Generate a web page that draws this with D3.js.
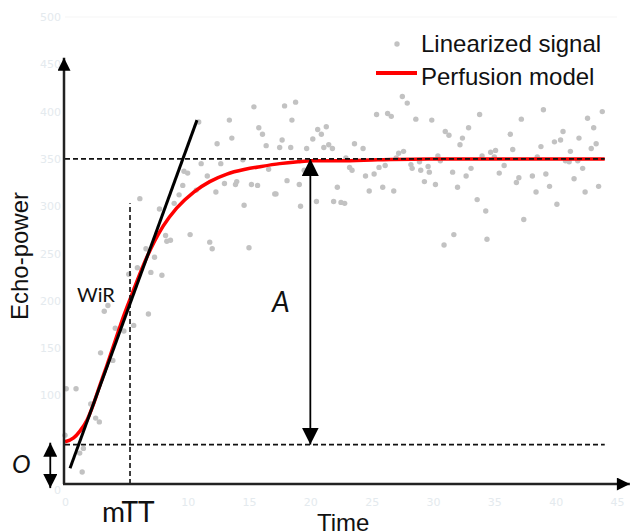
<!DOCTYPE html>
<html>
<head>
  <script src="https://d3js.org/d3.v7.min.js"></script>
  <style>
    body { margin: 0; background: #fff; }
    .tick text { fill: #e4eaee; font-family: "DejaVu Sans", sans-serif; font-size: 11px; }
    .tick line, .domain { display: none; }
    .dot { fill: #c2c2c2; }
    .model { fill: none; stroke: #ff0000; stroke-width: 3.5; }
    .guide { stroke: #111; stroke-width: 1.6; stroke-dasharray: 5,3; fill: none; }
    .axisline { stroke: #222; stroke-width: 2.5; }
    .lbl { font-family: Lato, sans-serif; fill: #111; }
    .legend { font-family: "Liberation Sans", Arial, sans-serif; font-size: 24px; fill: #111; }
  </style>
</head>
<body>
  <svg width="635" height="532"></svg>
  <script>
    // tick labels
    var xTicks = [0, 5, 10, 15, 20, 25, 30, 35, 40, 45];
    var yTicks = [0, 50, 100, 150, 200, 250, 300, 350, 400, 450, 500];

    // linearized signal (time, echo-power)
    var signalT = [0.0,0.1,0.9,1.2,1.5,1.4,2.1,2.5,2.8,2.9,3.9,3.2,3.5,4.1,4.8,5.6,6.8,
      6.1,5.2,5.9,7.0,7.9,7.3,6.6,8.2,8.6,8.3,7.7,8.9,9.3,9.6,9.7,10.0,10.7,10.2,11.8,12.0,10.9,11.1,11.6,12.3,12.4,12.7,13.0,13.4,13.6,13.9,14.0,14.6,14.5,
      15.4,17.9,18.8,18.5,15.8,16.1,17.7,17.5,18.4,16.4,19.7,20.2,20.6,20.9,21.3,21.1,21.5,21.8,23.6,24.3,22.9,23.2,23.4,19.5,16.6,18.1,19.1,15.2,15.7,17.1,17.2,19.2,20.5,22.2,21.9,22.5,22.8,15.0,24.5,25.2,24.8,25.9,26.8,25.6,26.1,27.0,27.2,27.6,25.4,26.3,26.6,27.5,27.9,28.6,28.2,28.3,29.0,29.3,28.9,
      29.9,31.0,31.3,33.8,32.9,32.4,32.2,30.4,30.6,29.6,29.7,30.2,31.6,32.0,32.7,33.1,33.6,34.3,30.9,31.7,34.4,34.0,34.7,35.1,35.0,35.4,35.8,36.3,36.5,37.2,39.0,36.8,37.0,37.4,38.1,38.5,38.8,38.4,39.2,39.5,40.1,39.9,40.4,40.6,40.8,41.1,41.2,41.8,41.5,42.2,41.9,42.4,42.6,43.1,42.9,43.3,43.5,43.8];
    var signalV = [58,107,107,39,44,19,91,76,72,145,137,189,195,171,168,174,186,
      308,228,235,230,227,246,255,269,264,263,297,303,312,322,337,335,317,270,262,255,389,345,332,315,366,345,324,391,372,323,326,301,349,
      405,406,410,391,383,376,370,362,362,364,361,371,381,376,384,362,365,361,366,361,351,341,338,338,339,327,323,323,322,313,313,300,305,320,305,304,303,256,332,334,316,320,316,341,343,351,356,358,397,398,395,416,409,392,344,340,338,326,347,
      391,379,375,397,383,372,365,353,348,342,336,323,336,320,332,340,307,295,259,270,265,353,357,359,352,335,343,376,360,392,402,325,330,286,332,352,363,315,334,321,302,368,370,379,348,347,358,348,329,340,372,315,393,383,361,366,321,400];

    // perfusion model fit
    var modelT = [0, 0.7, 1.2, 1.8, 2.3, 2.85, 3.4, 4.1, 4.7, 5.4, 6.4, 7.3, 8.0, 9.1, 10.5, 11.8, 13.2, 14.7, 16.0, 17.5, 19.0, 20.1, 22.4, 25.5, 29.7, 44];
    var modelV = [51, 55, 62, 74, 90, 111, 131, 158, 181, 205, 238, 263, 279, 298, 315, 326, 334, 339, 342, 345, 347, 348, 348, 349, 350, 350];

    // annotations
    var offsetO = 48, plateau = 350, tEnd = 44;
    var wirT = [0.41, 10.76], wirV = [23, 391];
    var mtt = 5.3, mttTop = 303;
    var tA = 20, tO = -1.2;
    var axisV = 6.3, axisTop = 457, axisRight = 46.05;

    var svg = d3.select("svg");
    var x = d3.scaleLinear().domain([0, 45]).range([65, 617]),
        y = d3.scaleLinear().domain([0, 500]).range([490, 17]);

    var defs = svg.append("defs");
    function marker(id, len, wid) {
      defs.append("marker").attr("id", id)
        .attr("viewBox", "0 0 10 10").attr("refX", 10).attr("refY", 5)
        .attr("markerUnits", "userSpaceOnUse")
        .attr("markerWidth", len).attr("markerHeight", wid)
        .attr("orient", "auto-start-reverse")
        .append("path").attr("d", "M0,0L10,5L0,10z").attr("fill", "#000");
    }
    marker("bigArrow", 17, 17);
    marker("axArrow", 14, 13);
    marker("smArrow", 14, 14);

    // faint axes of the original plot
    svg.append("line").attr("x1", x(0)).attr("x2", x(45)).attr("y1", y(500)).attr("y2", y(500))
      .attr("stroke", "#f5f5f5");
    svg.append("g").attr("class", "axis")
      .attr("transform", "translate(0," + y(0) + ")")
      .call(d3.axisBottom(x).tickValues(xTicks).tickSize(0).tickPadding(8));
    svg.append("g").attr("class", "axis")
      .attr("transform", "translate(" + (x(0) - 1) + ",0)")
      .call(d3.axisLeft(y).tickValues(yTicks).tickSize(0).tickPadding(3));

    // signal
    svg.selectAll(".dot")
      .data(signalT.map(function(t, i) { return [t, signalV[i]]; }))
      .enter().append("circle")
      .attr("class", "dot")
      .attr("cx", function(d) { return x(d[0]); })
      .attr("cy", function(d) { return y(d[1]); })
      .attr("r", 2.7);

    // model
    var line = d3.line()
      .x(function(d) { return x(d[0]); })
      .y(function(d) { return y(d[1]); })
      .curve(d3.curveMonotoneX);
    svg.append("path").attr("class", "model")
      .attr("d", line(modelT.map(function(t, i) { return [t, modelV[i]]; })));

    // dashed guides
    [offsetO, plateau].forEach(function(v) {
      svg.append("line").attr("class", "guide")
        .attr("x1", x(0)).attr("x2", x(tEnd)).attr("y1", y(v)).attr("y2", y(v));
    });
    svg.append("line").attr("class", "guide").attr("stroke-dasharray", "4,3")
      .attr("x1", x(mtt)).attr("x2", x(mtt)).attr("y1", y(axisV)).attr("y2", y(mttTop));

    // wash-in rate tangent
    svg.append("line")
      .attr("x1", x(wirT[0])).attr("y1", y(wirV[0]))
      .attr("x2", x(wirT[1])).attr("y2", y(wirV[1]))
      .attr("stroke", "#000").attr("stroke-width", 3);

    // amplitude arrow
    svg.append("line")
      .attr("x1", x(tA)).attr("x2", x(tA)).attr("y1", y(offsetO)).attr("y2", y(plateau))
      .attr("stroke", "#000").attr("stroke-width", 1.8)
      .attr("marker-start", "url(#bigArrow)").attr("marker-end", "url(#bigArrow)");

    // offset label box, hides the 50 tick
    svg.append("rect").attr("x", 4).attr("y", 432).attr("width", 56).attr("height", 50).attr("fill", "#fff");
    svg.append("line")
      .attr("x1", x(tO)).attr("x2", x(tO)).attr("y1", y(2)).attr("y2", y(offsetO + 2))
      .attr("stroke", "#000").attr("stroke-width", 1.8)
      .attr("marker-start", "url(#smArrow)").attr("marker-end", "url(#smArrow)");

    // mTT label box, hides the 5 tick
    svg.append("rect").attr("x", 100).attr("y", 492).attr("width", 48).attr("height", 40).attr("fill", "#fff");

    // axes with arrows
    svg.append("line").attr("class", "axisline")
      .attr("x1", x(0) - 1).attr("x2", x(0) - 1).attr("y1", y(axisV)).attr("y2", y(axisTop))
      .attr("marker-end", "url(#axArrow)");
    svg.append("line").attr("class", "axisline")
      .attr("x1", x(0) - 2).attr("x2", x(axisRight)).attr("y1", y(axisV)).attr("y2", y(axisV))
      .attr("marker-end", "url(#axArrow)");

    // labels
    svg.append("text").attr("class", "lbl").attr("x", 77).attr("y", 302)
      .attr("font-size", 20).text("WiR");
    svg.append("text").attr("class", "lbl").attr("x", 102).attr("y", 522)
      .attr("font-size", 28).text("mTT");
    svg.append("text").attr("class", "lbl").attr("x", 272).attr("y", 312)
      .attr("font-size", 28).attr("font-style", "italic").text("A");
    svg.append("text").attr("class", "lbl").attr("x", 12).attr("y", 473)
      .attr("font-size", 25).attr("font-style", "italic").text("O");
    svg.append("text").attr("class", "legend").attr("x", 317).attr("y", 531)
      .attr("font-size", 21).text("Time");
    svg.append("text").attr("class", "legend")
      .attr("transform", "translate(28,256) rotate(-90)")
      .attr("text-anchor", "middle").attr("font-size", 21).text("Echo-power");

    // legend
    svg.append("circle").attr("class", "dot").attr("cx", 397).attr("cy", 44).attr("r", 2.7);
    svg.append("text").attr("class", "legend").attr("x", 421).attr("y", 52).text("Linearized signal");
    svg.append("line").attr("x1", 376).attr("x2", 417).attr("y1", 73).attr("y2", 73)
      .attr("stroke", "#ff0000").attr("stroke-width", 4);
    svg.append("text").attr("class", "legend").attr("x", 421).attr("y", 85).text("Perfusion model");
  </script>
</body>
</html>
